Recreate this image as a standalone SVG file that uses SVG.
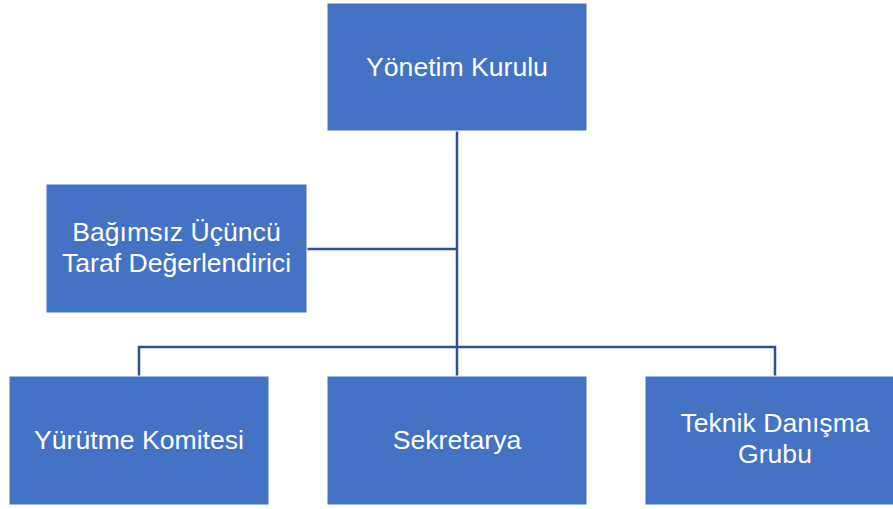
<svg xmlns="http://www.w3.org/2000/svg" width="893" height="509" viewBox="0 0 893 509">
<style>
.box{fill:#4472c4;stroke:#ffffff;stroke-width:1}
.lbl{fill:#ffffff;font-family:"Liberation Sans",Arial,sans-serif;font-size:26.6px;text-anchor:middle}
.con{stroke:#2f528f;stroke-width:2.5;fill:none}
</style>
<rect width="893" height="509" fill="#ffffff"/>
<g id="connectors">
<path class="con" d="M457 131 V376"/>
<path class="con" d="M307 249 H457"/>
<path class="con" d="M139 376 V347 H775 V376"/>
</g>
<g id="yonetim-kurulu">
<rect class="box" x="327" y="3" width="260" height="128"/>
<text class="lbl" x="457" y="76">Yönetim Kurulu</text>
</g>
<g id="bagimsiz">
<rect class="box" x="46" y="184" width="261" height="129"/>
<text class="lbl" x="176.5" y="241">Bağımsız Üçüncü</text>
<text class="lbl" x="176.5" y="272">Taraf Değerlendirici</text>
</g>
<g id="yurutme">
<rect class="box" x="9" y="376" width="260" height="129"/>
<text class="lbl" x="139" y="449">Yürütme Komitesi</text>
</g>
<g id="sekretarya">
<rect class="box" x="327" y="376" width="260" height="129"/>
<text class="lbl" x="457" y="449">Sekretarya</text>
</g>
<g id="teknik">
<rect class="box" x="645" y="376" width="260" height="129"/>
<text class="lbl" x="775" y="432">Teknik Danışma</text>
<text class="lbl" x="775" y="463">Grubu</text>
</g>
</svg>
